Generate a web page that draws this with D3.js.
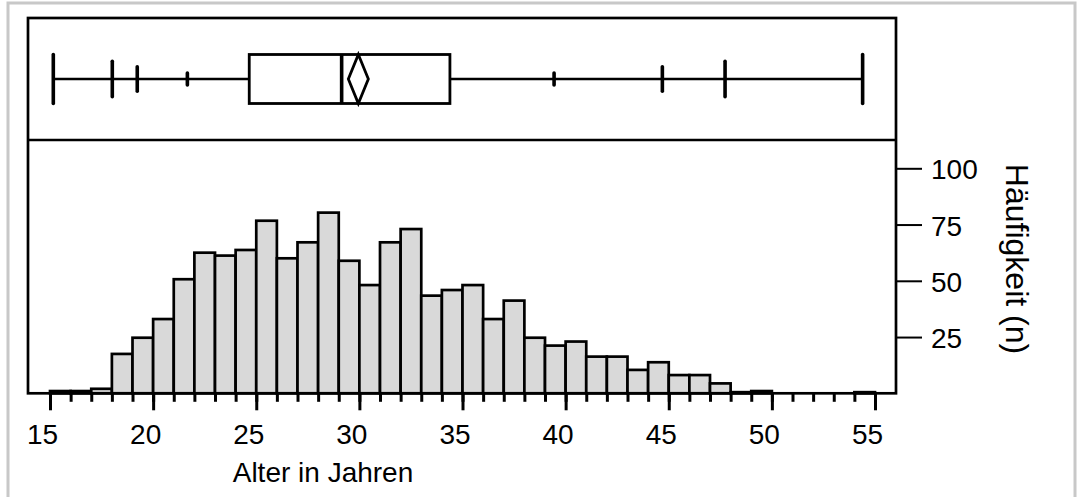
<!DOCTYPE html>
<html><head><meta charset="utf-8">
<script src="https://cdn.jsdelivr.net/npm/d3@7"></script>
<style>
body{margin:0;background:#fff}
svg text{font-family:Arial,"Liberation Sans",Helvetica,sans-serif;fill:#000}
</style>
</head><body>
<svg id="chart" width="1082" height="497"></svg>
<script>
// ---------- data ----------
const binStarts = [15,16,17,18,19,20,21,22,23,24,25,26,27,28,29,30,31,32,33,34,35,36,37,38,39,40,41,42,43,44,45,46,47,48,49,50,51,52,53,54];
const counts    = [1,1,2,17.5,24.7,33,50.7,62.5,61.2,63.7,76.7,60,67.1,80.3,58.9,48.1,67.1,73,43.4,45.9,48.1,33,41.2,24.7,21.2,23,16.3,16.3,10.4,13.8,8.1,8.1,4.4,0.5,1,0,0,0,0,0.5];
const xTickLabels = [15,20,25,30,35,40,45,50,55];
const xMinorTicks = [15,16,17,18,19,20,21,22,23,24,25,26,27,28,29,30,31,32,33,34,35,36,37,38,39,40,41,42,43,44,45,46,47,48,49,50,51,52,53,54,55];
const yTickLabels = [25,50,75,100];
const whiskerEnds = [15.16, 54.40];          // min, max
const quartiles   = [24.66, 29.14, 34.39];   // Q1, median, Q3
const meanAge     = [29.95];
const pctlNames   = ["P1","P5","P10","P90","P95","P99"];
const pctlValues  = [18.02, 19.23, 21.66, 39.44, 44.69, 47.73];
const xTitle = "Alter in Jahren";
const yTitle = "Häufigkeit (n)";

// ---------- layout ----------
const svg = d3.select("#chart");
const L = 28, R = 896, T = 18, MID = 140, B = 393.3;
const boxCY = 79, boxH = 49;

// outer light grey border
svg.append("rect").attr("x",8).attr("y",3).attr("width",1067).attr("height",520)
  .attr("fill","none").attr("stroke","#c8c8c8").attr("stroke-width",3);

const x = d3.scaleLinear().domain([13.933, 56.018]).range([L, R]);
const y = d3.scaleLinear().domain([0, (B - MID) / 2.25]).range([B, MID]);

// ---------- histogram bars ----------
const bars = binStarts.map((s,i)=>({s, c: counts[i]})).filter(d => d.c > 0);
svg.append("g").selectAll("rect").data(bars).join("rect")
  .attr("x", d => x(d.s))
  .attr("width", d => x(d.s + 1) - x(d.s))
  .attr("y", d => y(d.c))
  .attr("height", d => y(0) - y(d.c))
  .attr("fill", "#d9d9d9")
  .attr("stroke", "#000")
  .attr("stroke-width", 2.7);

// ---------- frame ----------
svg.append("rect").attr("x",L).attr("y",T).attr("width",R-L).attr("height",B-T)
  .attr("fill","none").attr("stroke","#000").attr("stroke-width",2.7);
svg.append("line").attr("x1",L).attr("x2",R).attr("y1",MID).attr("y2",MID)
  .attr("stroke","#000").attr("stroke-width",2.7);

// ---------- x axis ----------
const gxMinor = svg.append("g").attr("transform",`translate(0,${B})`)
  .call(d3.axisBottom(x).tickValues(xMinorTicks).tickSize(8.5).tickFormat(""));
const gxMajor = svg.append("g").attr("transform",`translate(0,${B})`)
  .call(d3.axisBottom(x).tickValues(xTickLabels).tickSize(17).tickPadding(14).tickFormat(d3.format("d")));
[gxMinor, gxMajor].forEach(g => {
  g.select(".domain").remove();
  g.selectAll(".tick line").attr("stroke","#000").attr("stroke-width",3);
});
gxMajor.selectAll(".tick text").attr("font-size",28).attr("dx",-8).attr("dy","0.71em");

svg.append("text").attr("x",323).attr("y",482).attr("text-anchor","middle")
  .attr("font-size",28).text(xTitle);

// ---------- y axis (right) ----------
const gy = svg.append("g").attr("transform",`translate(${R},0)`)
  .call(d3.axisRight(y).tickValues(yTickLabels).tickSize(26).tickPadding(9).tickFormat(d3.format("d")));
gy.select(".domain").remove();
gy.selectAll(".tick line").attr("stroke","#000").attr("stroke-width",2);
gy.selectAll(".tick text").attr("font-size",28).attr("dy","0.38em");

svg.append("text").attr("transform",`translate(1006,259) rotate(90)`)
  .attr("text-anchor","middle").attr("font-size",32).text(yTitle);

// ---------- box plot ----------
const bp = svg.append("g").attr("stroke","#000").attr("fill","none");
bp.append("line").attr("x1",x(whiskerEnds[0])).attr("x2",x(whiskerEnds[1]))
  .attr("y1",boxCY).attr("y2",boxCY).attr("stroke-width",2.3);
bp.selectAll("line.cap").data(whiskerEnds).join("line").attr("class","cap")
  .attr("x1",d=>x(d)).attr("x2",d=>x(d))
  .attr("y1",boxCY-boxH/2).attr("y2",boxCY+boxH/2)
  .attr("stroke-width",3.6).attr("stroke-linecap","round");
const pHalf = {P1:17.8,P99:17.8,P5:12.3,P95:12.3,P10:6,P90:6};
bp.selectAll("line.pct").data(pctlValues.map((v,i)=>({v,n:pctlNames[i]}))).join("line").attr("class","pct")
  .attr("x1",d=>x(d.v)).attr("x2",d=>x(d.v))
  .attr("y1",d=>boxCY-pHalf[d.n]).attr("y2",d=>boxCY+pHalf[d.n])
  .attr("stroke-width",3.6).attr("stroke-linecap","round");
bp.append("rect").attr("x",x(quartiles[0])).attr("width",x(quartiles[2])-x(quartiles[0]))
  .attr("y",boxCY-boxH/2).attr("height",boxH).attr("fill","#fff").attr("stroke-width",2.8);
bp.append("line").attr("x1",x(quartiles[1])).attr("x2",x(quartiles[1]))
  .attr("y1",boxCY-boxH/2).attr("y2",boxCY+boxH/2).attr("stroke-width",3.6);
const mx = x(meanAge[0]);
bp.append("path")
  .attr("d",`M${mx},${boxCY-boxH/2}L${mx+10},${boxCY}L${mx},${boxCY+boxH/2}L${mx-10},${boxCY}Z`)
  .attr("stroke-width",2.8).attr("stroke-linejoin","miter");
</script>
</body></html>
